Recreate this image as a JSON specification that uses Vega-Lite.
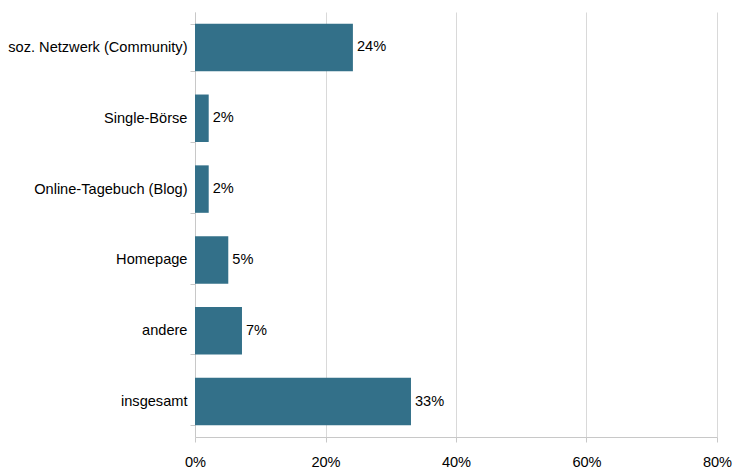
{
  "$schema": "https://vega.github.io/schema/vega-lite/v6.json",
  "autosize": "none",
  "padding": {"left": 195, "top": 12, "right": 16, "bottom": 32},
  "width": 522,
  "height": 425,
  "background": "white",
  "config": {
    "view": {"stroke": null},
    "font": "Liberation Sans"
  },
  "data": {
    "values": [
      {"kategorie": "soz. Netzwerk (Community)", "anteil": 0.242},
      {"kategorie": "Single-Börse", "anteil": 0.021},
      {"kategorie": "Online-Tagebuch (Blog)", "anteil": 0.021},
      {"kategorie": "Homepage", "anteil": 0.051},
      {"kategorie": "andere", "anteil": 0.072},
      {"kategorie": "insgesamt", "anteil": 0.331}
    ]
  },
  "encoding": {
    "y": {
      "field": "kategorie",
      "type": "nominal",
      "sort": null,
      "scale": {"paddingInner": 0.33, "paddingOuter": 0.165},
      "axis": {
        "title": null,
        "labelFont": "Liberation Sans",
        "labelFontSize": 14.6,
        "labelColor": "#000000",
        "labelPadding": 3,
        "labelLimit": 300,
        "domainColor": "#c8c8c8",
        "tickColor": "#c8c8c8",
        "tickSize": 5,
        "tickBand": "extent",
        "grid": false
      }
    },
    "x": {
      "field": "anteil",
      "type": "quantitative",
      "scale": {"domain": [0, 0.8], "nice": false, "zero": true},
      "axis": {
        "title": null,
        "format": ".0%",
        "values": [0, 0.2, 0.4, 0.6, 0.8],
        "labelFont": "Liberation Sans",
        "labelFontSize": 14.6,
        "labelColor": "#000000",
        "labelPadding": 12,
        "labelFlush": false,
        "labelOverlap": false,
        "domainColor": "#c8c8c8",
        "tickColor": "#c8c8c8",
        "tickSize": 5,
        "grid": true,
        "gridColor": "#d9d9d9",
        "gridWidth": 1
      }
    }
  },
  "layer": [
    {"mark": {"type": "bar", "color": "#337089"}},
    {
      "mark": {"type": "text", "align": "left", "baseline": "middle", "dx": 4, "fontSize": 14.6, "color": "#000000", "font": "Liberation Sans"},
      "encoding": {"text": {"field": "anteil", "type": "quantitative", "format": ".0%"}}
    }
  ]
}
